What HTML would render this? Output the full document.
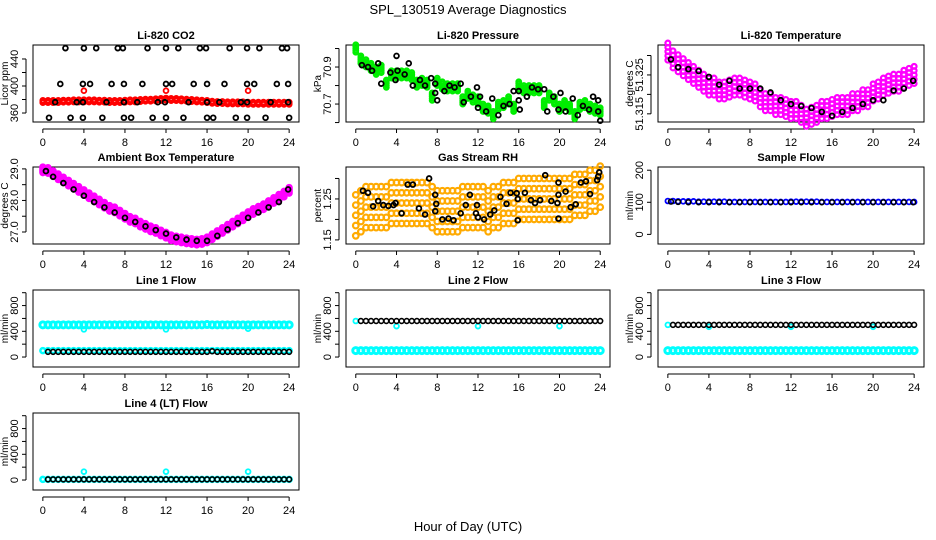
<!DOCTYPE html>
<html><head><meta charset="utf-8"><style>
html,body{margin:0;padding:0;background:#fff}
svg{display:block;font-family:"Liberation Sans",sans-serif}
</style></head><body>
<svg id="chart" width="936" height="540" viewBox="0 0 936 540">
<text x="468" y="14" text-anchor="middle" font-size="13">SPL_130519  Average Diagnostics</text>
<text x="468" y="531" text-anchor="middle" font-size="13">Hour of Day (UTC)</text>
</svg>
<script>
// ---- data ----
const xTicks = [0,4,8,12,16,20,24];
const co2Red = [377,377,377,377,377.5,377.5,378,378,378,378,378,377.5,377.5,377,377,377,377.5,378,378,378.5,379,379,379.5,380,380.5,380,380,379.5,379,378.5,378,377.5,377,376,375.5,375.5,375,375,375,375,374.5,374.5,374.5,374.5,374.5,374.5,374.5,374.5,374.5];
const co2RedOutHours = [4,12,20];
const co2RedOutVals = [393,393,393];
const co2BlkHours = [2.2,4.0,5.2,7.3,7.8,10.2,12.0,13.2,15.3,15.9,18.2,19.9,21.1,23.3,23.8, 1.7,3.9,4.6,6.7,7.9,9.7,12.0,12.6,14.7,16.0,17.7,19.9,20.6,22.8,23.9, 1.2,3.3,3.9,6.2,7.9,9.2,11.2,11.9,14.2,16.0,17.2,19.3,19.9,22.2,23.9, 0.6,2.7,3.9,5.8,7.9,8.6,10.7,12.0,13.7,16.0,16.6,18.8,19.9,21.7,24.0];
const co2BlkVals = [456,456,456,456,456,456,456,456,456,456,456,456,456,456,456, 403,403,403,403,403,403,403,403,403,403,403,403,403,403,403, 376,376,376,376,376,376,376,376,376,376,376,376,376,376,376, 353,353,353,353,353,353,353,353,353,353,353,353,353,353,353];

const presGreen = [71.0,70.94,70.92,70.9,70.88,70.89,70.81,70.86,70.86,70.86,70.86,70.85,70.81,70.82,70.81,70.74,70.82,70.8,70.79,70.79,70.79,70.72,70.75,70.73,70.72,70.68,70.67,70.64,70.69,70.7,70.72,70.68,70.8,70.78,70.78,70.78,70.78,70.7,70.74,70.72,70.68,70.7,70.68,70.64,70.69,70.7,70.68,70.67,70.66];
const presBlkHours = [0.6,1.2,1.6,2.2,2.5,3.4,3.9,4.0,4.1,4.8,5.2,5.6,6.3,6.8,7.4,7.8,7.8,8.0,8.7,9.2,9.7,10.3,10.6,11.3,11.9,12.0,12.2,12.8,13.4,14.0,14.5,15.1,15.5,16.0,16.0,16.1,16.8,17.3,17.9,18.5,18.8,19.4,19.9,20.1,20.6,21.3,21.8,22.3,22.9,23.3,23.8,23.8,24.0];
const presBlkVals = [70.91,70.9,70.88,70.92,70.81,70.87,70.83,70.96,70.88,70.86,70.92,70.8,70.83,70.8,70.84,70.81,70.76,70.72,70.77,70.8,70.79,70.81,70.71,70.74,70.79,70.68,70.74,70.66,70.73,70.64,70.69,70.7,70.77,70.77,70.72,70.67,70.74,70.79,70.78,70.78,70.66,70.74,70.67,70.76,70.66,70.73,70.64,70.69,70.67,70.74,70.72,70.66,70.61];

const tempMag = [51.331,51.329,51.328,51.327,51.326,51.325,51.324,51.323,51.322,51.322,51.321,51.321,51.3215,51.322,51.322,51.3215,51.321,51.3205,51.319,51.318,51.318,51.317,51.317,51.3165,51.316,51.316,51.315,51.314,51.3145,51.315,51.316,51.316,51.3165,51.317,51.317,51.317,51.318,51.318,51.319,51.319,51.3205,51.321,51.322,51.3225,51.323,51.323,51.324,51.3245,51.325];
const tempBlk = [51.329,51.327,51.3265,51.326,51.3245,51.3225,51.3235,51.3215,51.3215,51.3215,51.3205,51.3185,51.3175,51.317,51.3165,51.3155,51.3145,51.3155,51.3165,51.3175,51.3185,51.3185,51.321,51.3215,51.3235];

const ambMag = [28.97,28.95,28.85,28.75,28.65,28.55,28.45,28.35,28.25,28.15,28.05,27.95,27.85,27.75,27.7,27.6,27.5,27.4,27.35,27.25,27.18,27.1,27.05,26.97,26.9,26.82,26.78,26.75,26.72,26.7,26.68,26.7,26.75,26.85,26.95,27.05,27.15,27.25,27.35,27.45,27.55,27.65,27.72,27.8,27.9,28.0,28.1,28.2,28.32];
const ambBlk = [28.93,28.75,28.55,28.35,28.15,27.95,27.78,27.62,27.45,27.32,27.18,27.06,26.95,26.83,26.76,26.72,26.72,26.88,27.08,27.28,27.45,27.62,27.78,27.95,28.35];

const rhOrange = [1.21,1.22,1.23,1.23,1.23,1.23,1.23,1.24,1.24,1.24,1.24,1.24,1.24,1.24,1.24,1.23,1.22,1.22,1.22,1.22,1.22,1.23,1.23,1.23,1.23,1.23,1.22,1.23,1.23,1.24,1.24,1.24,1.25,1.25,1.25,1.25,1.25,1.25,1.25,1.25,1.25,1.25,1.25,1.26,1.26,1.26,1.27,1.27,1.28];
const rhBlkHours = [0.7,1.2,1.7,2.2,2.7,3.2,3.7,3.9,4.5,5.1,5.6,6.2,6.8,7.2,7.8,7.8,7.9,8.5,9.1,9.6,10.3,10.8,11.2,11.8,11.9,12.0,12.6,13.2,13.6,14.2,14.8,15.2,15.8,15.9,15.9,16.6,17.2,17.6,18.1,18.6,19.2,19.8,19.9,19.9,19.9,20.6,21.1,21.6,22.1,22.6,23.0,23.7,23.8,23.9];
const rhBlkVals = [1.27,1.265,1.232,1.245,1.235,1.233,1.235,1.24,1.215,1.285,1.285,1.227,1.212,1.30,1.26,1.22,1.238,1.20,1.202,1.198,1.215,1.235,1.26,1.215,1.235,1.205,1.2,1.212,1.222,1.255,1.238,1.265,1.264,1.198,1.25,1.265,1.247,1.24,1.247,1.308,1.245,1.24,1.202,1.29,1.26,1.268,1.23,1.237,1.29,1.293,1.262,1.296,1.305,1.315];

const sampleBlue = [104,104,103,103,103,103,102,102,102,102,102,102,101,101,101,101,101,101,101,101,101,101,101,101,102,102,102,102,102,102,101,101,101,101,101,101,101,101,101,101,101,101,101,101,101,101,101,101,101];
const sampleBlk = [102,101,100,100,100,100,100,100,100,100,100,100,100,100,100,100,100,100,100,100,100,100,100,100,100];

const l1CyanTop = [500,500,500,500,500,500,500,500,500,500,500,500,500,500,500,500,500,500,500,500,500,500,500,500,500,500,500,500,500,500,500,500,505,500,500,500,500,500,500,500,500,500,500,500,500,500,500,500,500];
const l1CyanBot = [100,100,100,100,100,100,100,100,100,100,100,100,100,100,100,100,100,100,100,100,100,100,100,100,100,100,100,100,100,100,100,100,100,100,100,100,100,100,100,100,100,100,100,100,100,100,100,100,100];
const l1Blk = [80,80,80,80,80,80,80,80,80,80,80,80,80,80,80,80,80,80,80,80,80,80,80,80,80,80,80,80,80,80,80,80,90,80,80,80,80,80,80,80,80,80,80,80,80,80,80,80];
const l1OutHours = [4,12,20];
const l1OutVals = [430,430,440];

const l2Blk = [560,560,560,560,560,560,560,560,560,560,560,560,560,560,560,560,560,560,560,560,560,560,560,560,560,560,560,560,560,560,560,560,560,560,560,560,560,560,560,560,560,560,560,560,560,560,560,560];
const l2CyanBot = l1CyanBot;
const l2OutHours = [0,4,12,20];
const l2OutVals = [560,480,480,480];

const l3Blk = [500,500,500,500,500,500,500,500,500,500,500,500,500,500,500,500,500,500,500,500,500,500,500,500,500,500,500,500,500,500,500,500,500,500,500,500,500,500,500,500,500,500,500,500,500,500,500,500];
const l3CyanBot = l1CyanBot;
const l3OutHours = [0,4,12,20];
const l3OutVals = [500,470,470,470];

const l4Blk = [10,10,10,10,10,10,10,10,10,10,10,10,10,10,10,10,10,10,10,10,10,10,10,10,10,10,10,10,10,10,10,10,10,10,10,10,10,10,10,10,10,10,10,10,10,10,10,10];
const l4Cyan = [10,10,10,10,10,10,10,10,10,10,10,10,10,10,10,10,10,10,10,10,10,10,10,10,10,10,10,10,10,10,10,10,10,10,10,10,10,10,10,10,10,10,10,10,10,10,10,10,10];
const l4OutHours = [4,12,20];
const l4OutVals = [130,130,130];

// ---- layout ----
const svg = document.getElementById('chart');
const NS = 'http://www.w3.org/2000/svg';
const COLS = [[33,299],[346,610],[658,924]];
const ROWS = [45,167,290,413];
const BH = 77;
function mk(tag, attrs, parent){
  const e = document.createElementNS(NS, tag);
  for (const k in attrs) e.setAttribute(k, attrs[k]);
  (parent||svg).appendChild(e);
  return e;
}
function panel(col,row,name,title,ylab,dom,ticks,labels){
  const [L,R] = COLS[col]; const T = ROWS[row]; const B = T+BH;
  const g = mk('g',{});
  
  
  const pad = (R-L)/1.08*0.04;
  const xs = h => L+pad + h/24*((R-L)-2*pad);
  const ys = v => B - (v-dom[0])/(dom[1]-dom[0])*BH;
  const box = mk('rect',{x:L,y:T,width:R-L,height:BH,fill:'none',stroke:'#000','stroke-width':1},g);
  
  
  const t = mk('text',{x:(L+R)/2,y:T-6,'text-anchor':'middle','font-size':11,'font-weight':'bold'},g);
  t.textContent = title;
  
  
  const xa = mk('g',{},g);
  
  
  mk('line',{x1:xs(0),x2:xs(24),y1:B+7,y2:B+7,stroke:'#000'},xa);
  xTicks.forEach(h=>{
    mk('line',{x1:xs(h),x2:xs(h),y1:B+7,y2:B+11,stroke:'#000'},xa);
    const tl = mk('text',{x:xs(h),y:B+24,'text-anchor':'middle','font-size':11},xa);
    tl.textContent = h;
    
    
  });
  const ya = mk('g',{},g);
  
  
  mk('line',{x1:L-7,x2:L-7,y1:ys(ticks[0]),y2:ys(ticks[ticks.length-1]),stroke:'#000'},ya);
  ticks.forEach((v,i)=>{
    mk('line',{x1:L-11,x2:L-7,y1:ys(v),y2:ys(v),stroke:'#000'},ya);
    if (labels[i]!==''){
      const tl = mk('text',{x:L-15,y:ys(v),'text-anchor':'middle','font-size':11,transform:`rotate(-90 ${L-15} ${ys(v)})`},ya);
      tl.textContent = labels[i];
      
      
    }
  });
  const yl = mk('text',{x:L-25,y:(T+B)/2,'text-anchor':'middle','font-size':10,transform:`rotate(-90 ${L-25} ${(T+B)/2})`},g);
  yl.textContent = ylab;
  
  
  const plot = mk('g',{},g);
  
  
  return {xs,ys,g:plot};
}
function pts(p, hours, vals, color, sname, opts){
  opts = opts||{};
  const r = opts.r||2.4, sw = opts.sw||1.5, spread = opts.spread||0;
  const g = mk('g',{},p.g);
  
  
  const offs = spread ? [-spread,-spread/2,0,spread/2,spread] : [0];
  vals.forEach((v,i)=>{
    offs.forEach(o=>{
      const c = mk('circle',{cx:p.xs(hours[i]),cy:p.ys(v+o),r:r,fill:opts.fill||'none',stroke:color,'stroke-width':sw},g);
      
      
    });
  });
}
const half = a => a.map((_,i)=>Math.min(24,i*0.5));
const halfOff = a => a.map((_,i)=>Math.min(24,0.5+i*0.5));
const hourly = a => a.map((_,i)=>Math.min(23.9,Math.max(0.3,i)));

let p = panel(0,0,'co2-panel','Li-820 CO2','Licor ppm',[346.7,460.7],[360,380,400,420,440],['360','','400','','440']);
pts(p, half(co2Red), co2Red, '#ff0000', 'co2-red-series', {spread:1.6, sw:2});
pts(p, co2RedOutHours, co2RedOutVals, '#ff0000', 'co2-red-outliers', {sw:1.8});
pts(p, co2BlkHours, co2BlkVals, '#000', 'co2-black-series', {sw:1.8});
p = panel(1,0,'pressure-panel','Li-820 Pressure','kPa',[70.603,71.019],[70.6,70.7,70.8,70.9,71.0],['','70.7','','70.9','']);
pts(p, half(presGreen), presGreen, '#00ee00', 'pressure-green-series', {spread:0.02, sw:2});
pts(p, presBlkHours, presBlkVals, '#000', 'pressure-black-series', {sw:1.8});
p = panel(2,0,'temperature-panel','Li-820 Temperature','degrees C',[51.3129,51.3327],[51.315,51.32,51.325,51.33],['51.315','','51.325','']);
pts(p, half(tempMag), tempMag, '#ff00ff', 'temperature-magenta-series', {spread:0.0022, sw:2.2});
pts(p, hourly(tempBlk), tempBlk, '#000', 'temperature-black-series', {sw:1.8});
p = panel(0,1,'ambient-panel','Ambient Box Temperature','degrees C',[26.62,29.06],[27,27.5,28,28.5,29],['27.0','','28.0','','29.0']);
pts(p, half(ambMag), ambMag, '#ff00ff', 'ambient-magenta-series', {spread:0.09, sw:2.5});
pts(p, hourly(ambBlk), ambBlk, '#000', 'ambient-black-series', {sw:1.8});
p = panel(1,1,'rh-panel','Gas Stream RH','percent',[1.14,1.328],[1.15,1.2,1.25,1.3],['1.15','','1.25','']);
pts(p, half(rhOrange), rhOrange, '#ffaa00', 'rh-orange-series', {spread:0.05, sw:2.2, r:2.8});
pts(p, rhBlkHours, rhBlkVals, '#000', 'rh-black-series', {sw:1.8});
p = panel(2,1,'sample-flow-panel','Sample Flow','ml/min',[-30,210],[0,100,200],['0','100','200']);
pts(p, half(sampleBlue), sampleBlue, '#0000ff', 'sample-blue-series', {sw:1.8});
pts(p, hourly(sampleBlk), sampleBlk, '#000', 'sample-black-series', {sw:1.5});
const fDom = [-155,1042], fT = [0,200,400,600,800,1000], fL = ['0','','400','','800',''];
p = panel(0,2,'line1-panel','Line 1 Flow','ml/min',fDom,fT,fL);
pts(p, half(l1CyanTop), l1CyanTop, '#00ffff', 'line1-cyan-high', {sw:3, r:3});
pts(p, half(l1CyanBot), l1CyanBot, '#00ffff', 'line1-cyan-low', {sw:2.5, r:2.5});
pts(p, l1OutHours, l1OutVals, '#00ffff', 'line1-cyan-outliers', {sw:1.8});
pts(p, halfOff(l1Blk), l1Blk, '#000', 'line1-black-series', {sw:1.6});
p = panel(1,2,'line2-panel','Line 2 Flow','ml/min',fDom,fT,fL);
pts(p, half(l2CyanBot), l2CyanBot, '#00ffff', 'line2-cyan-low', {sw:3, r:3});
pts(p, l2OutHours, l2OutVals, '#00ffff', 'line2-cyan-outliers', {sw:1.8});
pts(p, halfOff(l2Blk), l2Blk, '#000', 'line2-black-series', {sw:1.6});
p = panel(2,2,'line3-panel','Line 3 Flow','ml/min',fDom,fT,fL);
pts(p, half(l3CyanBot), l3CyanBot, '#00ffff', 'line3-cyan-low', {sw:3, r:3});
pts(p, l3OutHours, l3OutVals, '#00ffff', 'line3-cyan-outliers', {sw:1.8});
pts(p, halfOff(l3Blk), l3Blk, '#000', 'line3-black-series', {sw:1.6});
p = panel(0,3,'line4-panel','Line 4 (LT) Flow','ml/min',fDom,fT,fL);
pts(p, half(l4Cyan), l4Cyan, '#00ffff', 'line4-cyan-series', {sw:2.5, r:2.5});
pts(p, l4OutHours, l4OutVals, '#00ffff', 'line4-cyan-outliers', {sw:1.8});
pts(p, halfOff(l4Blk), l4Blk, '#000', 'line4-black-series', {sw:1.6});
</script>
</body></html>
